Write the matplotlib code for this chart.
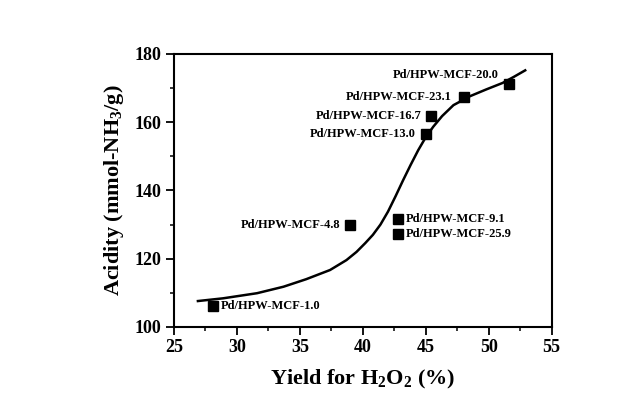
import matplotlib
matplotlib.use("Agg")
import matplotlib.pyplot as plt
from matplotlib.ticker import MultipleLocator

plt.rcParams['font.family'] = ['Liberation Serif', 'DejaVu Serif']
plt.rcParams['font.weight'] = 'bold'
plt.rcParams['mathtext.fontset'] = 'custom'
plt.rcParams['mathtext.rm'] = 'Liberation Serif:bold'
plt.rcParams['mathtext.bf'] = 'Liberation Serif:bold'
plt.rcParams['mathtext.default'] = 'bf'

# samples (yield %, acidity)
nombres = ["Pd/HPW-MCF-1.0", "Pd/HPW-MCF-4.8", "Pd/HPW-MCF-9.1", "Pd/HPW-MCF-25.9",
           "Pd/HPW-MCF-13.0", "Pd/HPW-MCF-16.7", "Pd/HPW-MCF-23.1", "Pd/HPW-MCF-20.0"]
yield_h2o2 = [28.1, 39.0, 42.8, 42.8, 45.0, 45.4, 48.0, 51.6]
acidez = [106.2, 129.9, 131.6, 127.2, 156.5, 161.7, 167.5, 171.2]

# fitted curve
curva_x = [26.9, 28.9, 31.6, 33.7, 35.5, 37.4, 38.7, 39.5, 40.2, 40.8, 41.4, 42.0,
           42.6, 43.2, 43.8, 44.4, 45.0, 45.6, 46.3, 47.2, 48.5, 49.8, 51.1, 52.0, 52.9]
curva_y = [107.6, 108.4, 109.9, 111.8, 114.0, 116.7, 119.6, 122.0, 124.6, 127.0, 130.0, 133.8,
           138.3, 143.0, 147.5, 151.8, 155.6, 158.7, 161.8, 165.0, 167.6, 169.6, 171.5, 173.3, 175.2]

# label offsets in pixels (dx, dy, alignment)
offsets = [(8, 0, "left"), (-10, 0, "right"), (8, 0, "left"), (8, 0, "left"),
           (-10, 0, "right"), (-9, 0, "right"), (-12, 0, "right"), (-10, 9, "right")]

fig = plt.figure(figsize=(6.43, 4.07), dpi=100)
ax = fig.add_axes([0.2706, 0.1966, 0.5873, 0.6708])

ax.plot(curva_x, curva_y, color="black", lw=1.8, solid_joinstyle="round")
ax.plot(yield_h2o2, acidez, "s", color="black", markersize=7.5)

for nombre, x, y, (dx, dy, ha) in zip(nombres, yield_h2o2, acidez, offsets):
    ax.annotate(nombre, (x, y), xytext=(dx, dy), textcoords="offset pixels",
                ha=ha, va="center", fontsize=9, fontweight="bold")

ax.set_xlim(25, 55)
ax.set_ylim(100, 180)
ax.xaxis.set_major_locator(MultipleLocator(5))
ax.xaxis.set_minor_locator(MultipleLocator(2.5))
ax.yaxis.set_major_locator(MultipleLocator(20))
ax.yaxis.set_minor_locator(MultipleLocator(10))
ax.tick_params(which="major", length=5.5, width=1.3, labelsize=13, direction="out")
ax.tick_params(which="minor", length=3, width=1.1, direction="out")
for s in ax.spines.values():
    s.set_linewidth(1.5)

ax.set_xlabel("Yield for H$_2$O$_2$ (%)", fontsize=16, fontweight="bold", labelpad=8)
ax.set_ylabel("Acidity (mmol-NH$_3$/g)", fontsize=16, fontweight="bold", labelpad=6)

fig.savefig("out.png", dpi=100)
